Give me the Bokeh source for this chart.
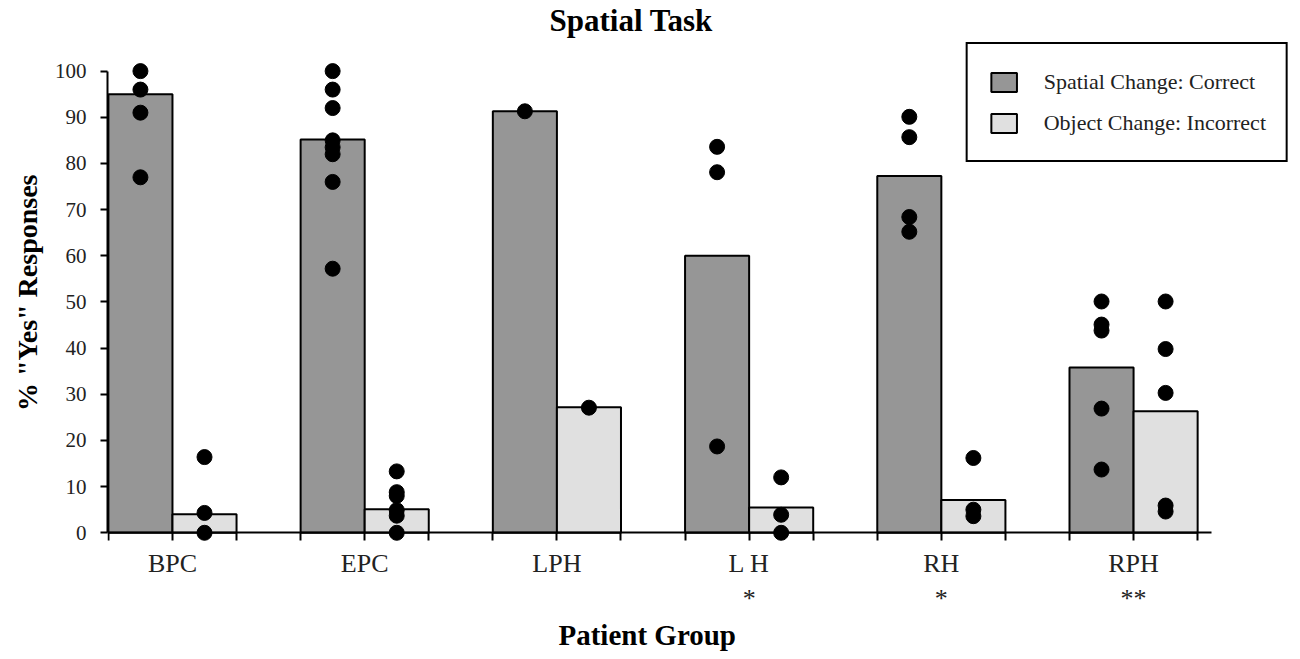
import numpy as np
from bokeh.plotting import figure
from bokeh.models import FixedTicker, Legend, LegendItem, Range1d, Title
from bokeh.embed import file_html
from bokeh.resources import INLINE

# ---------------- data ----------------
groups = ["BPC", "EPC", "LPH", "LH", "RH", "RPH"]
group_labels = ["BPC", "EPC", "LPH", "L H\n*", "RH\n*", "RPH\n**"]
y_ticks = [0, 10, 20, 30, 40, 50, 60, 70, 80, 90, 100]

spatial_correct = [95.0, 85.2, 91.3, 60.0, 77.3, 35.8]
object_incorrect = [4.0, 5.1, 27.2, 5.5, 7.1, 26.3]

# individual patients, spatial change (correct)
bpc_spatial = [100, 96, 91, 77]
epc_spatial = [100, 96, 92, 85, 83.5, 82, 76, 57.2]
lph_spatial = [91.3]
lh_spatial = [83.6, 78.1, 18.7]
rh_spatial = [90.1, 85.7, 68.4, 65.2]
rph_spatial = [50.1, 45.1, 43.8, 26.9, 13.7]

# individual patients, object change (incorrect)
bpc_object = [16.4, 4.3, 0]
epc_object = [13.3, 8.8, 8.0, 4.9, 3.7, 0]
lph_object = [27.1]
lh_object = [12.0, 3.9, 0]
rh_object = [16.2, 5.0, 3.6]
rph_object = [50.1, 39.8, 30.3, 5.9, 4.6]

spatial_points = [bpc_spatial, epc_spatial, lph_spatial, lh_spatial, rh_spatial, rph_spatial]
object_points = [bpc_object, epc_object, lph_object, lh_object, rh_object, rph_object]

# ---------------- figure ----------------
FONT = "Liberation Serif"
BAR_W = 1 / 3
idx = np.arange(len(groups))

p = figure(width=1296, height=652, output_backend="svg", toolbar_location=None,
           x_range=Range1d(-0.338, 5.806), y_range=Range1d(-18.35, 106.2),
           min_border_left=107, min_border_right=8, min_border_top=42, min_border_bottom=35)
p.outline_line_color = None
p.xgrid.visible = False
p.ygrid.visible = False
p.background_fill_color = "white"
p.border_fill_color = "white"

p.title.text = "Spatial Task"
p.title.text_font = FONT
p.title.text_font_size = "31px"
p.title.text_font_style = "bold"
p.title.text_color = "black"
p.title.align = "left"
p.title.offset = 442
p.title.standoff = 5
p.title.vertical_align = "top"

r_sp = p.vbar(x=idx - BAR_W / 2, top=spatial_correct, bottom=0, width=BAR_W,
              fill_color="#969696", line_color="black", line_width=2)
r_ob = p.vbar(x=idx + BAR_W / 2, top=object_incorrect, bottom=0, width=BAR_W,
              fill_color="#e0e0e0", line_color="black", line_width=2)

sx, sy, ox, oy = [], [], [], []
for i, (sv, ov) in enumerate(zip(spatial_points, object_points)):
    sx += [i - BAR_W / 2] * len(sv)
    sy += list(sv)
    ox += [i + BAR_W / 2] * len(ov)
    oy += list(ov)
p.scatter(x=sx, y=sy, size=15, color="black")
p.scatter(x=ox, y=oy, size=15, color="black")

# y axis
ya = p.yaxis[0]
ya.ticker = FixedTicker(ticks=y_ticks, minor_ticks=[])
ya.bounds = (0, 100)
ya.axis_line_width = 2
ya.axis_line_color = "black"
ya.major_tick_line_width = 2
ya.major_tick_out = 7
ya.major_tick_in = 0
ya.minor_tick_line_color = None
ya.major_label_text_font = FONT
ya.major_label_text_font_size = "21px"
ya.major_label_text_color = "#222222"
ya.major_label_standoff = 14

ytitle = Title(text='% "Yes" Responses', align="right", offset=132,
               text_font=FONT, text_font_size="28px", text_font_style="bold",
               text_color="black", vertical_align="bottom", standoff=18)
p.add_layout(ytitle, "left")

# x axis
xa = p.xaxis[0]
xa.fixed_location = 0
edge_ticks = sorted([float(i) - BAR_W for i in idx] + [float(i) + BAR_W for i in idx])
xa.ticker = FixedTicker(ticks=[int(i) for i in idx], minor_ticks=edge_ticks)
xa.major_label_overrides = {int(i): lab for i, lab in zip(idx, group_labels)}
xa.bounds = (-0.338, 5.404)
xa.axis_line_width = 2
xa.axis_line_color = "black"
xa.major_tick_line_width = 2
xa.minor_tick_line_width = 2
xa.minor_tick_line_color = "black"
xa.major_tick_out = 8
xa.major_tick_in = 0
xa.minor_tick_out = 8
xa.minor_tick_in = 0
xa.major_label_text_font = FONT
xa.major_label_text_font_size = "26px"
xa.major_label_text_color = "#222222"
xa.major_label_standoff = 8

xtitle = Title(text="Patient Group", align="left", offset=451,
               text_font=FONT, text_font_size="29px", text_font_style="bold",
               text_color="black", vertical_align="middle", standoff=0)
p.add_layout(xtitle, "below")

legend = Legend(items=[LegendItem(label="Spatial Change: Correct", renderers=[r_sp]),
                       LegendItem(label="Object Change: Incorrect", renderers=[r_ob])],
                location="top_right")
legend.margin = 0
legend.padding = 20
legend.spacing = 6
legend.glyph_width = 32
legend.glyph_height = 24
legend.label_height = 35
legend.label_standoff = 24
legend.label_text_font = FONT
legend.label_text_font_size = "22px"
legend.label_text_color = "#222222"
legend.border_line_color = "black"
legend.border_line_alpha = 1.0
legend.border_line_width = 2
legend.background_fill_color = "white"
legend.background_fill_alpha = 1.0
p.add_layout(legend)

open("out.html", "w").write(file_html(p, INLINE))
